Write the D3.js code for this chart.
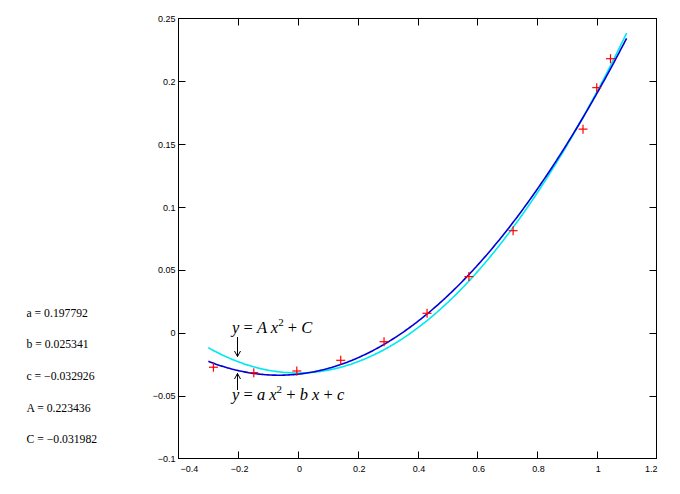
<!DOCTYPE html>
<html>
<head>
<meta charset="utf-8">
<script src="https://cdn.jsdelivr.net/npm/d3@7"></script>
<style>
  html, body { margin: 0; padding: 0; background: #fff; }
  svg { display: block; }
</style>
</head>
<body>
<svg id="chart" width="680" height="494"></svg>
<script>
// measured points (red crosses)
const xData = [-0.283, -0.148, -0.004, 0.143, 0.288, 0.432, 0.572, 0.72, 0.954, 1.0, 1.046];
const yData = [-0.0274, -0.0317, -0.0304, -0.0219, -0.0071, 0.0155, 0.0447, 0.0812, 0.162, 0.195, 0.218];

// fitted parameters shown at the left
const paramNames = ['a', 'b', 'c', 'A', 'C'];
const paramValues = [0.197792, 0.025341, -0.032926, 0.223436, -0.031982];

// axis ticks
const xTicks = [-0.4, -0.2, 0, 0.2, 0.4, 0.6, 0.8, 1, 1.2];
const yTicks = [-0.1, -0.05, 0, 0.05, 0.1, 0.15, 0.2, 0.25];
const curveRange = [-0.3, 1.1];

const P = Object.fromEntries(paramNames.map((n, i) => [n, paramValues[i]]));
const fmt = v => String(v).replace('-', '\u2212');

const svg = d3.select('#chart');
const x = d3.scaleLinear().domain([-0.4, 1.2]).range([178.5, 656.5]);
const y = d3.scaleLinear().domain([-0.1, 0.25]).range([458.5, 18.5]);
const [x0, x1] = x.range();
const [y0, y1] = y.range();
const tickLen = 7;

// frame
svg.append('rect')
  .attr('x', x0).attr('y', y1)
  .attr('width', x1 - x0).attr('height', y0 - y1)
  .attr('fill', 'none').attr('stroke', '#000').attr('stroke-width', 1);

// ticks on all four sides, pointing inward
const tg = svg.append('g').attr('stroke', '#000').attr('stroke-width', 1);
xTicks.slice(1, -1).forEach(t => {
  const px = Math.round(x(t)) + 0.5;
  tg.append('line').attr('x1', px).attr('x2', px).attr('y1', y0).attr('y2', y0 - tickLen);
  tg.append('line').attr('x1', px).attr('x2', px).attr('y1', y1).attr('y2', y1 + tickLen);
});
yTicks.slice(1, -1).forEach(t => {
  const py = Math.round(y(t)) + 0.5;
  tg.append('line').attr('x1', x0).attr('x2', x0 + tickLen).attr('y1', py).attr('y2', py);
  tg.append('line').attr('x1', x1).attr('x2', x1 - tickLen).attr('y1', py).attr('y2', py);
});

// tick labels
const lab = svg.append('g')
  .attr('font-family', '"Liberation Sans", Arial, sans-serif')
  .attr('font-size', 9).attr('fill', '#000');
xTicks.forEach((t, i) => {
  const first = i === 0, last = i === xTicks.length - 1;
  lab.append('text')
    .attr('x', first ? x0 + 2 : last ? x1 + 1 : x(t) + 1.5)
    .attr('y', y0 + 13)
    .attr('text-anchor', first ? 'start' : last ? 'end' : 'middle')
    .text(fmt(t));
});
yTicks.forEach(t => {
  lab.append('text')
    .attr('x', x0 - 3)
    .attr('y', y(t) + 3.5)
    .attr('text-anchor', 'end')
    .text(fmt(t));
});

// fitted curves from the displayed parameters
const cx = d3.range(curveRange[0], curveRange[1] + 1e-9, 0.005);
const quad = v => P.a * v * v + P.b * v + P.c;
const even = v => P.A * v * v + P.C;
const line = d3.line().x(d => x(d[0])).y(d => y(d[1]));

svg.append('path')
  .attr('d', line(cx.map(v => [v, even(v)])))
  .attr('fill', 'none').attr('stroke', '#00e8f0').attr('stroke-width', 1.6);
svg.append('path')
  .attr('d', line(cx.map(v => [v, quad(v)])))
  .attr('fill', 'none').attr('stroke', '#0000d8').attr('stroke-width', 1.6);

// data crosses
const pts = svg.append('g').attr('stroke', '#ff0000').attr('stroke-width', 1.2);
xData.forEach((v, i) => {
  const px = x(v), py = y(yData[i]);
  pts.append('line').attr('x1', px - 4.5).attr('x2', px + 4.5).attr('y1', py).attr('y2', py);
  pts.append('line').attr('x1', px).attr('x2', px).attr('y1', py - 4.5).attr('y2', py + 4.5);
});

// parameter list
const pl = svg.append('g')
  .attr('font-family', '"Liberation Serif", "Times New Roman", serif')
  .attr('font-size', 11.7).attr('fill', '#000');
paramNames.forEach((n, i) => {
  pl.append('text')
    .attr('x', 26.5)
    .attr('y', 316.5 + i * 31.7)
    .text(`${n} = ${fmt(paramValues[i])}`);
});

// equation labels with arrows
function equation(tx, ty, parts) {
  const t = svg.append('text')
    .attr('x', tx).attr('y', ty)
    .attr('font-family', '"Liberation Serif", "Times New Roman", serif')
    .attr('font-size', 16.5).attr('fill', '#000')
    .attr('xml:space', 'preserve');
  parts.forEach(p => {
    const s = t.append('tspan').text(p.t);
    if (p.i) s.attr('font-style', 'italic');
    if (p.sup) s.attr('font-size', 11).attr('dy', -7);
    if (p.down) s.attr('dy', 7);
  });
}
equation(232, 333, [
  { t: 'y', i: 1 }, { t: ' = ' }, { t: 'A', i: 1 }, { t: ' x', i: 1 }, { t: '2', sup: 1 },
  { t: ' + ', down: 1 }, { t: 'C', i: 1 }
]);
equation(232, 400, [
  { t: 'y', i: 1 }, { t: ' = ' }, { t: 'a', i: 1 }, { t: ' x', i: 1 }, { t: '2', sup: 1 },
  { t: ' + ', down: 1 }, { t: 'b', i: 1 }, { t: ' x', i: 1 }, { t: ' + ' }, { t: 'c', i: 1 }
]);

const ag = svg.append('g').attr('stroke', '#000').attr('stroke-width', 1).attr('fill', 'none');
const ax = 237.5;
ag.append('line').attr('x1', ax).attr('x2', ax).attr('y1', 337).attr('y2', 356.5);
ag.append('path').attr('d', `M${ax - 3},${351} L${ax},${356.5} L${ax + 3},${351}`);
ag.append('line').attr('x1', ax).attr('x2', ax).attr('y1', 373.5).attr('y2', 390);
ag.append('path').attr('d', `M${ax - 3},${379} L${ax},${373.5} L${ax + 3},${379}`);
</script>
</body>
</html>
